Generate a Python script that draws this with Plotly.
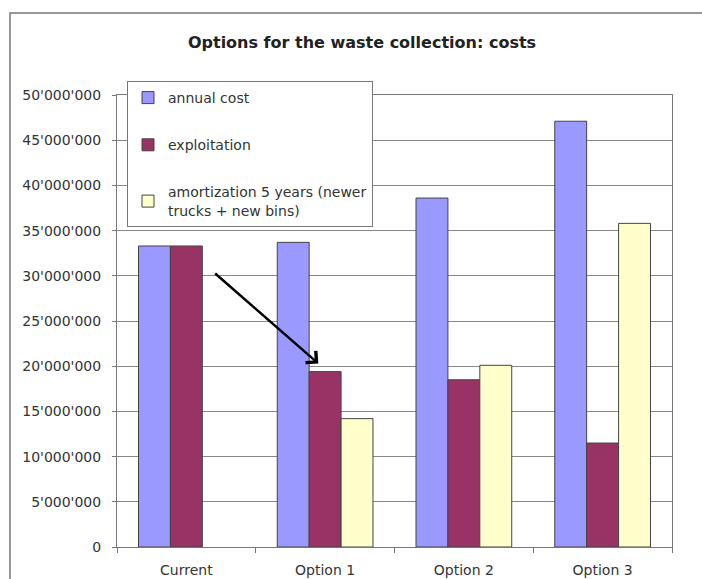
import plotly.graph_objects as go

categories = ["Current", "Option 1", "Option 2", "Option 3"]
annual_cost = [33.3e6, 33.7e6, 38.6e6, 47.1e6]
exploitation = [33.3e6, 19.4e6, 18.5e6, 11.5e6]
amortization = [None, 14.2e6, 20.1e6, 35.8e6]
series_names = ["annual cost", "exploitation", "amortization 5 years (newer<br>trucks + new bins)"]
series_colors = ["#9999FF", "#993366", "#FFFFCC"]
y_ticks = [0, 5e6, 10e6, 15e6, 20e6, 25e6, 30e6, 35e6, 40e6, 45e6, 50e6]

# arrow from / to (category index, value)
arrow_from = (0.197, 30.4e6)
arrow_to = (0.951, 20.3e6)

FONT = "DejaVu Sans, Verdana, sans-serif"

fig = go.Figure()
for name, vals, col, grp in zip(series_names, [annual_cost, exploitation, amortization], series_colors, ["a", "b", "c"]):
    fig.add_trace(go.Bar(
        x=categories, y=vals, name=name, legendgroup=grp,
        marker=dict(color=col, line=dict(color="#444444", width=1)),
    ))

W, H = 702, 579
L, R, T, B = 117, 30, 95, 32
pw = W - L - R
ph = H - T - B

def px_x(px):
    return (px - L) / pw

def px_y(py):
    return (H - B - py) / ph

fig.update_layout(
    width=W, height=H,
    margin=dict(l=L, r=R, t=T, b=B, pad=0),
    paper_bgcolor="white", plot_bgcolor="white",
    separators=".'",
    font=dict(family=FONT, size=14, color="#333333"),
    barmode="group", bargap=0.31, bargroupgap=0,
    showlegend=True,
    title=dict(text="<b>Options for the waste collection: costs</b>",
               x=362 / W, xanchor="center", y=1 - 42 / H, yanchor="middle",
               font=dict(family=FONT, size=16, color="#222222")),
    legend=dict(
        x=px_x(127), xanchor="left", y=px_y(81), yanchor="top",
        bgcolor="white", bordercolor="#777777", borderwidth=1,
        traceorder="grouped", tracegroupgap=26,
        font=dict(family=FONT, size=14, color="#333333"),
        itemwidth=30,
    ),
    xaxis=dict(
        showline=True, linecolor="#777777", linewidth=1, mirror=True,
        ticks="outside", ticklen=5, tickcolor="#777777", tickson="boundaries",
        showgrid=False, tickfont=dict(size=14), ticklabelstandoff=10,
        automargin=False,
    ),
    yaxis=dict(
        range=[0, 50e6], tickvals=y_ticks, tickformat=",d",
        showline=True, linecolor="#777777", linewidth=1, mirror=True,
        ticks="outside", ticklen=4, tickcolor="#777777",
        showgrid=True, gridcolor="#888888", gridwidth=1,
        zeroline=False, tickfont=dict(size=14), ticklabelstandoff=8,
        automargin=False,
    ),
)

# outer chart frame
fig.add_shape(type="rect", xref="paper", yref="paper",
              x0=px_x(10), x1=px_x(720), y0=px_y(600), y1=px_y(13),
              line=dict(color="#777777", width=1.5), layer="below")

fig.add_annotation(
    x=arrow_to[0], y=arrow_to[1], xref="x", yref="y",
    ax=arrow_from[0], ay=arrow_from[1], axref="x", ayref="y",
    showarrow=True, arrowhead=4, arrowsize=1.2, arrowwidth=2.5, arrowcolor="#000000",
    text="",
)

fig.write_html("out.html", config={"displayModeBar": False},
               post_script="document.body.style.margin='0';document.body.style.overflow='hidden';")
